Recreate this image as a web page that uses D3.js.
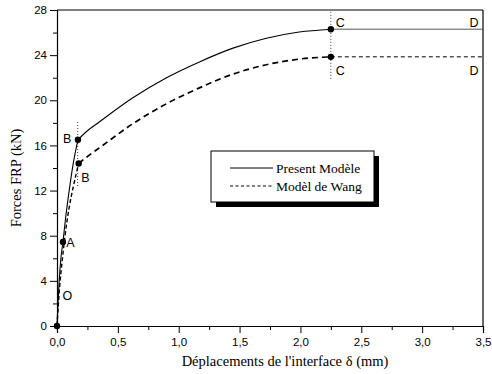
<!DOCTYPE html>
<html>
<head>
<meta charset="utf-8">
<script src="https://cdn.jsdelivr.net/npm/d3@7"></script>
<style>
  body { margin: 0; background: #fff; }
  .tick text { font-family: "Liberation Sans", Arial, sans-serif; font-size: 11.5px; }
  .title { font-family: "Liberation Serif", "Times New Roman", serif; font-size: 14.5px; }
  .leg { font-family: "Liberation Serif", "Times New Roman", serif; font-size: 13.5px; }
  .lbl { font-family: "Liberation Sans", Arial, sans-serif; font-size: 12.5px; }
</style>
</head>
<body>
<div id="chart"></div>
<script>
// Present Modèle (solid)
const presentOA = [[0, 0], [0.008, 2], [0.018, 4], [0.032, 6], [0.049, 7.45], [0.07, 9.5], [0.1, 12], [0.135, 14.5], [0.172, 16.5]];
const presentBC = [[0.172, 16.5], [0.25, 17.3], [0.35, 18.1], [0.62, 20.2], [0.9, 22.0], [1.17, 23.4], [1.44, 24.6], [1.72, 25.5], [1.99, 26.05], [2.25, 26.3]];
const presentCD = [[2.25, 26.3], [3.5, 26.3]];
// Modèl de Wang (dashed)
const wangOB = [[0, 0], [0.012, 2], [0.026, 4], [0.045, 6], [0.066, 8], [0.1, 10.5], [0.133, 12.3], [0.178, 14.4]];
const wangBC = [[0.178, 14.4], [0.26, 15.1], [0.35, 15.8], [0.62, 17.9], [0.9, 19.7], [1.17, 21.1], [1.44, 22.3], [1.72, 23.15], [1.99, 23.65], [2.25, 23.85]];
const wangCD = [[2.25, 23.85], [3.5, 23.85]];

const points = [
  { name: 'O', x: 0, y: 0 },
  { name: 'A', x: 0.049, y: 7.45 },
  { name: 'B', x: 0.172, y: 16.5 },
  { name: 'B', x: 0.178, y: 14.4 },
  { name: 'C', x: 2.25, y: 26.3 },
  { name: 'C', x: 2.25, y: 23.85 }
];
const labels = [
  { name: 'O', x: 0.045, y: 2.3 },
  { name: 'A', x: 0.075, y: 7.0 },
  { name: 'B', x: 0.05, y: 16.2 },
  { name: 'B', x: 0.2, y: 12.8 },
  { name: 'C', x: 2.29, y: 26.5 },
  { name: 'C', x: 2.29, y: 22.2 },
  { name: 'D', x: 3.39, y: 26.5 },
  { name: 'D', x: 3.39, y: 22.2 }
];
const guides = [
  { x: 0.17, y0: 12.4, y1: 18.2 },
  { x: 2.25, y0: 21.9, y1: 28 }
];

const xTicks = [0, 0.5, 1, 1.5, 2, 2.5, 3, 3.5];
const yTicks = [0, 4, 8, 12, 16, 20, 24, 28];
const legendItems = [
  { name: 'Present Modèle', dash: null },
  { name: 'Modèl de Wang', dash: '3,2.5' }
];

const W = 492, H = 374;
const margin = { top: 10, right: 9, bottom: 48, left: 57 };
const width = W - margin.left - margin.right;
const height = H - margin.top - margin.bottom;

const svg = d3.select('#chart').append('svg').attr('width', W).attr('height', H);
const g = svg.append('g').attr('transform', `translate(${margin.left},${margin.top})`);

const x = d3.scaleLinear().domain([0, 3.5]).range([0, width]);
const y = d3.scaleLinear().domain([0, 28]).range([height, 0]);
const fmt = d => d3.format('.1f')(d).replace('.', ',');

// minor ticks
g.append('g').attr('transform', `translate(0,${height})`)
  .call(d3.axisBottom(x).tickValues(d3.range(0.25, 3.5, 0.5)).tickSize(4).tickFormat(''))
  .call(a => a.select('.domain').remove());
g.append('g')
  .call(d3.axisLeft(y).tickValues(d3.range(2, 28, 4)).tickSize(4).tickFormat(''))
  .call(a => a.select('.domain').remove());

g.append('g').attr('transform', `translate(0,${height})`)
  .call(d3.axisBottom(x).tickValues(xTicks).tickSize(7).tickPadding(5).tickFormat(fmt));
g.append('g')
  .call(d3.axisLeft(y).tickValues(yTicks).tickSize(7).tickPadding(3).tickFormat(d3.format('d')));
g.selectAll('.domain').attr('stroke-width', 1.2);

// frame top / right
g.append('line').attr('x1', 0).attr('x2', width).attr('y1', 0).attr('y2', 0).attr('stroke', '#000').attr('stroke-width', 1.2);
g.append('line').attr('x1', width).attr('x2', width).attr('y1', 0).attr('y2', height).attr('stroke', '#000').attr('stroke-width', 1.2);

const line = d3.line().curve(d3.curveMonotoneX).x(d => x(d[0])).y(d => y(d[1]));

// guides
g.selectAll('.guide').data(guides).enter().append('line')
  .attr('x1', d => x(d.x)).attr('x2', d => x(d.x))
  .attr('y1', d => y(d.y0)).attr('y2', d => y(d.y1))
  .attr('stroke', '#000').attr('stroke-width', 0.8).attr('stroke-dasharray', '1,2');

const curves = [
  { data: presentOA, w: 1.1, dash: null, color: '#000' },
  { data: presentBC, w: 1.1, dash: null, color: '#000' },
  { data: presentCD, w: 1, dash: null, color: '#555' },
  { data: wangOB, w: 1.4, dash: '4,2.5', color: '#000' },
  { data: wangBC, w: 1.7, dash: '6,4', color: '#000' },
  { data: wangCD, w: 1, dash: '4,3', color: '#000' }
];
g.selectAll('.curve').data(curves).enter().append('path')
  .attr('d', d => line(d.data))
  .attr('fill', 'none')
  .attr('stroke', d => d.color)
  .attr('stroke-width', d => d.w)
  .attr('stroke-dasharray', d => d.dash);

g.selectAll('.pt').data(points).enter().append('circle')
  .attr('cx', d => x(d.x)).attr('cy', d => y(d.y)).attr('r', 3.2).attr('fill', '#000');

g.selectAll('.lbl').data(labels).enter().append('text')
  .attr('class', 'lbl')
  .attr('x', d => x(d.x)).attr('y', d => y(d.y))
  .text(d => d.name);

// legend
const lg = svg.append('g').attr('transform', 'translate(211,151)');
lg.append('rect').attr('x', 5).attr('y', 5).attr('width', 163).attr('height', 51).attr('fill', '#000');
lg.append('rect').attr('x', 0).attr('y', 0).attr('width', 163).attr('height', 51).attr('fill', '#fff').attr('stroke', '#000').attr('stroke-width', 1);
const li = lg.selectAll('.li').data(legendItems).enter().append('g')
  .attr('transform', (d, i) => `translate(0,${17 + i * 18})`);
li.append('line').attr('x1', 19).attr('x2', 62).attr('y1', 0).attr('y2', 0)
  .attr('stroke', '#000').attr('stroke-width', 1).attr('stroke-dasharray', d => d.dash);
li.append('text').attr('class', 'leg').attr('x', 65).attr('y', 4.5).text(d => d.name);

// titles
svg.append('text').attr('class', 'title').attr('text-anchor', 'middle')
  .attr('transform', `translate(21,${margin.top + height / 2 + 10}) rotate(-90)`)
  .text('Forces FRP (kN)');
svg.append('text').attr('class', 'title').attr('text-anchor', 'middle')
  .attr('x', 285).attr('y', 366)
  .text("Déplacements de l'interface δ (mm)");
</script>
</body>
</html>
